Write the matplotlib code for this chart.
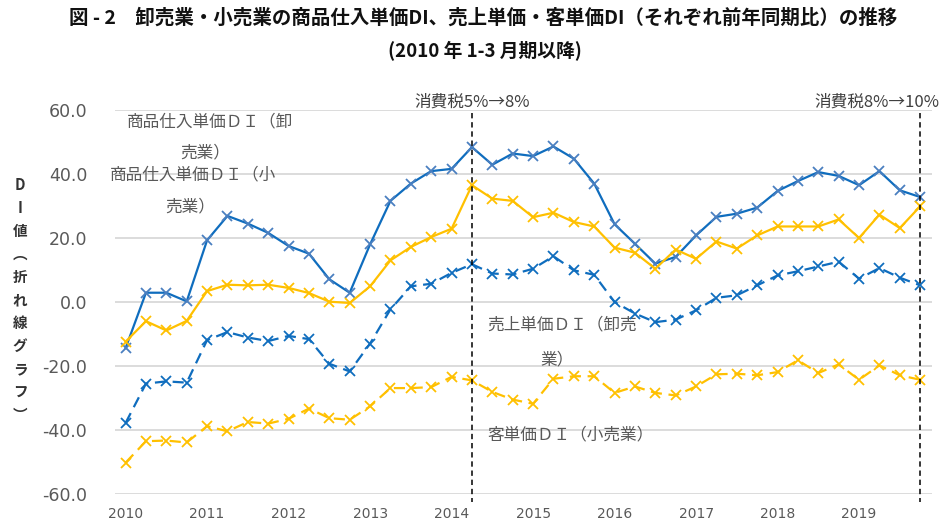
import matplotlib
matplotlib.use("Agg")
import matplotlib.pyplot as plt
import numpy as np

plt.rcParams['font.family'] = ['Noto Sans CJK JP', 'DejaVu Sans']

# ---- data (quarterly, 2010 Q1 .. 2019 Q4) ----
years = ["2010", "2011", "2012", "2013", "2014", "2015", "2016", "2017", "2018", "2019"]

wholesale_purchase = [-14.4, 2.9, 2.9, 0.2, 19.3, 26.9, 24.5, 21.6, 17.5, 15.1,
                      7.1, 2.9, 18.0, 31.6, 37.0, 40.9, 41.6, 48.4, 42.9, 46.4,
                      45.6, 48.6, 44.8, 37.0, 24.3, 18.2, 12.0, 14.1, 20.8, 26.6,
                      27.6, 29.5, 34.7, 37.8, 40.6, 39.4, 36.5, 40.9, 34.9, 32.8]
retail_purchase = [-12.4, -6.0, -8.9, -5.9, 3.4, 5.4, 5.2, 5.4, 4.4, 2.8,
                   0.1, -0.3, 4.9, 13.0, 17.2, 20.3, 22.9, 36.5, 32.3, 31.6,
                   26.5, 27.9, 25.0, 23.6, 17.0, 15.4, 10.4, 16.4, 13.5, 18.9,
                   16.7, 20.8, 23.6, 23.6, 23.6, 25.8, 20.0, 27.3, 23.1, 29.9]
wholesale_sales = [-37.8, -25.5, -24.8, -25.2, -11.9, -9.4, -11.1, -12.2, -10.6, -11.6,
                   -19.3, -21.7, -13.0, -2.3, 4.9, 5.7, 9.1, 11.8, 8.9, 8.6,
                   10.4, 14.3, 9.9, 8.5, 0.0, -3.6, -6.3, -5.5, -2.6, 1.3,
                   2.1, 5.2, 8.3, 9.6, 11.1, 12.6, 7.3, 10.6, 7.6, 5.2]
retail_customer = [-50.2, -43.5, -43.3, -43.9, -38.8, -40.4, -37.5, -38.0, -36.5, -33.3,
                   -36.3, -36.8, -32.6, -26.9, -26.9, -26.6, -23.4, -24.5, -28.1, -30.5,
                   -31.8, -24.0, -23.2, -23.2, -28.4, -26.4, -28.4, -29.2, -26.4, -22.6,
                   -22.4, -22.9, -21.9, -18.2, -22.2, -19.5, -24.3, -19.8, -22.9, -24.3]

tax_idx = [17, 39]
tax_labels = ["消費税5%→8%", "消費税8%→10%"]
y_ticks = [-60, -40, -20, 0, 20, 40, 60]

BLUE = "#0F6DBE"
YELLOW = "#FFC000"
GREY = "#595959"

W, H = 946, 524
fig = plt.figure(figsize=(W / 100, H / 100), dpi=100)
L, R, T, B = 115, 932, 110, 494
ax = fig.add_axes([L / W, (H - B) / H, (R - L) / W, (B - T) / H])

x = np.arange(len(wholesale_purchase))
lw = 1.6
ms = 6.5
mew = 1.3
ax.plot(x, wholesale_purchase, color=BLUE, lw=lw, marker='x', ms=ms, mew=mew, mec="#4A7FC0", zorder=4)
ax.plot(x, retail_purchase, color=YELLOW, lw=lw, marker='x', ms=ms, mew=mew, zorder=4)
ax.plot(x, wholesale_sales, color=BLUE, lw=lw, marker='x', ms=ms, mew=mew, dashes=(5, 3), zorder=4)
ax.plot(x, retail_customer, color=YELLOW, lw=lw, marker='x', ms=ms, mew=mew, dashes=(5, 3), zorder=4)

ax.set_xlim(-0.52, 39.58)
ax.set_ylim(-60, 60)
ax.set_yticks(y_ticks)
ax.set_yticklabels([f"{v:.1f}" for v in y_ticks], fontfamily='DejaVu Sans', fontsize=12.5, color=GREY)
ax.set_xticks(np.arange(0, 40, 4))
ax.set_xticklabels(years, fontfamily='DejaVu Sans', fontsize=10, color=GREY)
ax.tick_params(axis='both', length=0)
ax.tick_params(axis='y', pad=20)
ax.tick_params(axis='x', pad=9)
for s in ax.spines.values():
    s.set_visible(False)
ax.yaxis.grid(True, color="#D9D9D9", lw=1.3)
ax.set_axisbelow(True)

# tax lines
for i in tax_idx:
    ax.plot([i, i], [59, -62.5], color="black", lw=1.1, dashes=(3.5, 2.5), clip_on=False, zorder=5)
for i, lab, dx in zip(tax_idx, tax_labels, [0, -2.1]):
    ax.text(i + dx, 62.5, lab, ha='center', va='center', fontsize=12, color="#404040", clip_on=False)

# series labels
lab_kw = dict(fontsize=12, color=GREY, va='center', clip_on=False)
ax.text(0.06, 56.2, "商品仕入単価ＤＩ（卸", ha='left', **lab_kw)
ax.text(3.9, 46.6, "売業）", ha='center', **lab_kw)
ax.text(-0.77, 39.7, "商品仕入単価ＤＩ（小", ha='left', **lab_kw)
ax.text(3.16, 29.7, "売業）", ha='center', **lab_kw)
ax.text(17.74, -7.2, "売上単価ＤＩ（卸売", ha='left', **lab_kw)
ax.text(21.2, -18.1, "業）", ha='center', **lab_kw)
ax.text(17.74, -41.6, "客単価ＤＩ（小売業）", ha='left', **lab_kw)

# titles
fig.text(483 / W, 1 - 18 / H, "図 - 2　卸売業・小売業の商品仕入単価DI、売上単価・客単価DI（それぞれ前年同期比）の推移",
         ha='center', va='center', fontsize=14, fontweight='bold', color="#111111")
fig.text(485 / W, 1 - 51 / H, "(2010 年 1-3 月期以降)", ha='center', va='center',
         fontsize=13.5, fontweight='bold', color="#111111")

# vertical y-axis label
chars = ["D", "I", "値", "︵", "折", "れ", "線", "グ", "ラ", "フ", "︶"]
for k, c in enumerate(chars):
    yy = 185 + 23 * k
    fig.text(20 / W, 1 - yy / H, c, ha='center', va='center', fontsize=10.5, fontweight='bold', color="#333333")

fig.savefig("out.png", dpi=100)
